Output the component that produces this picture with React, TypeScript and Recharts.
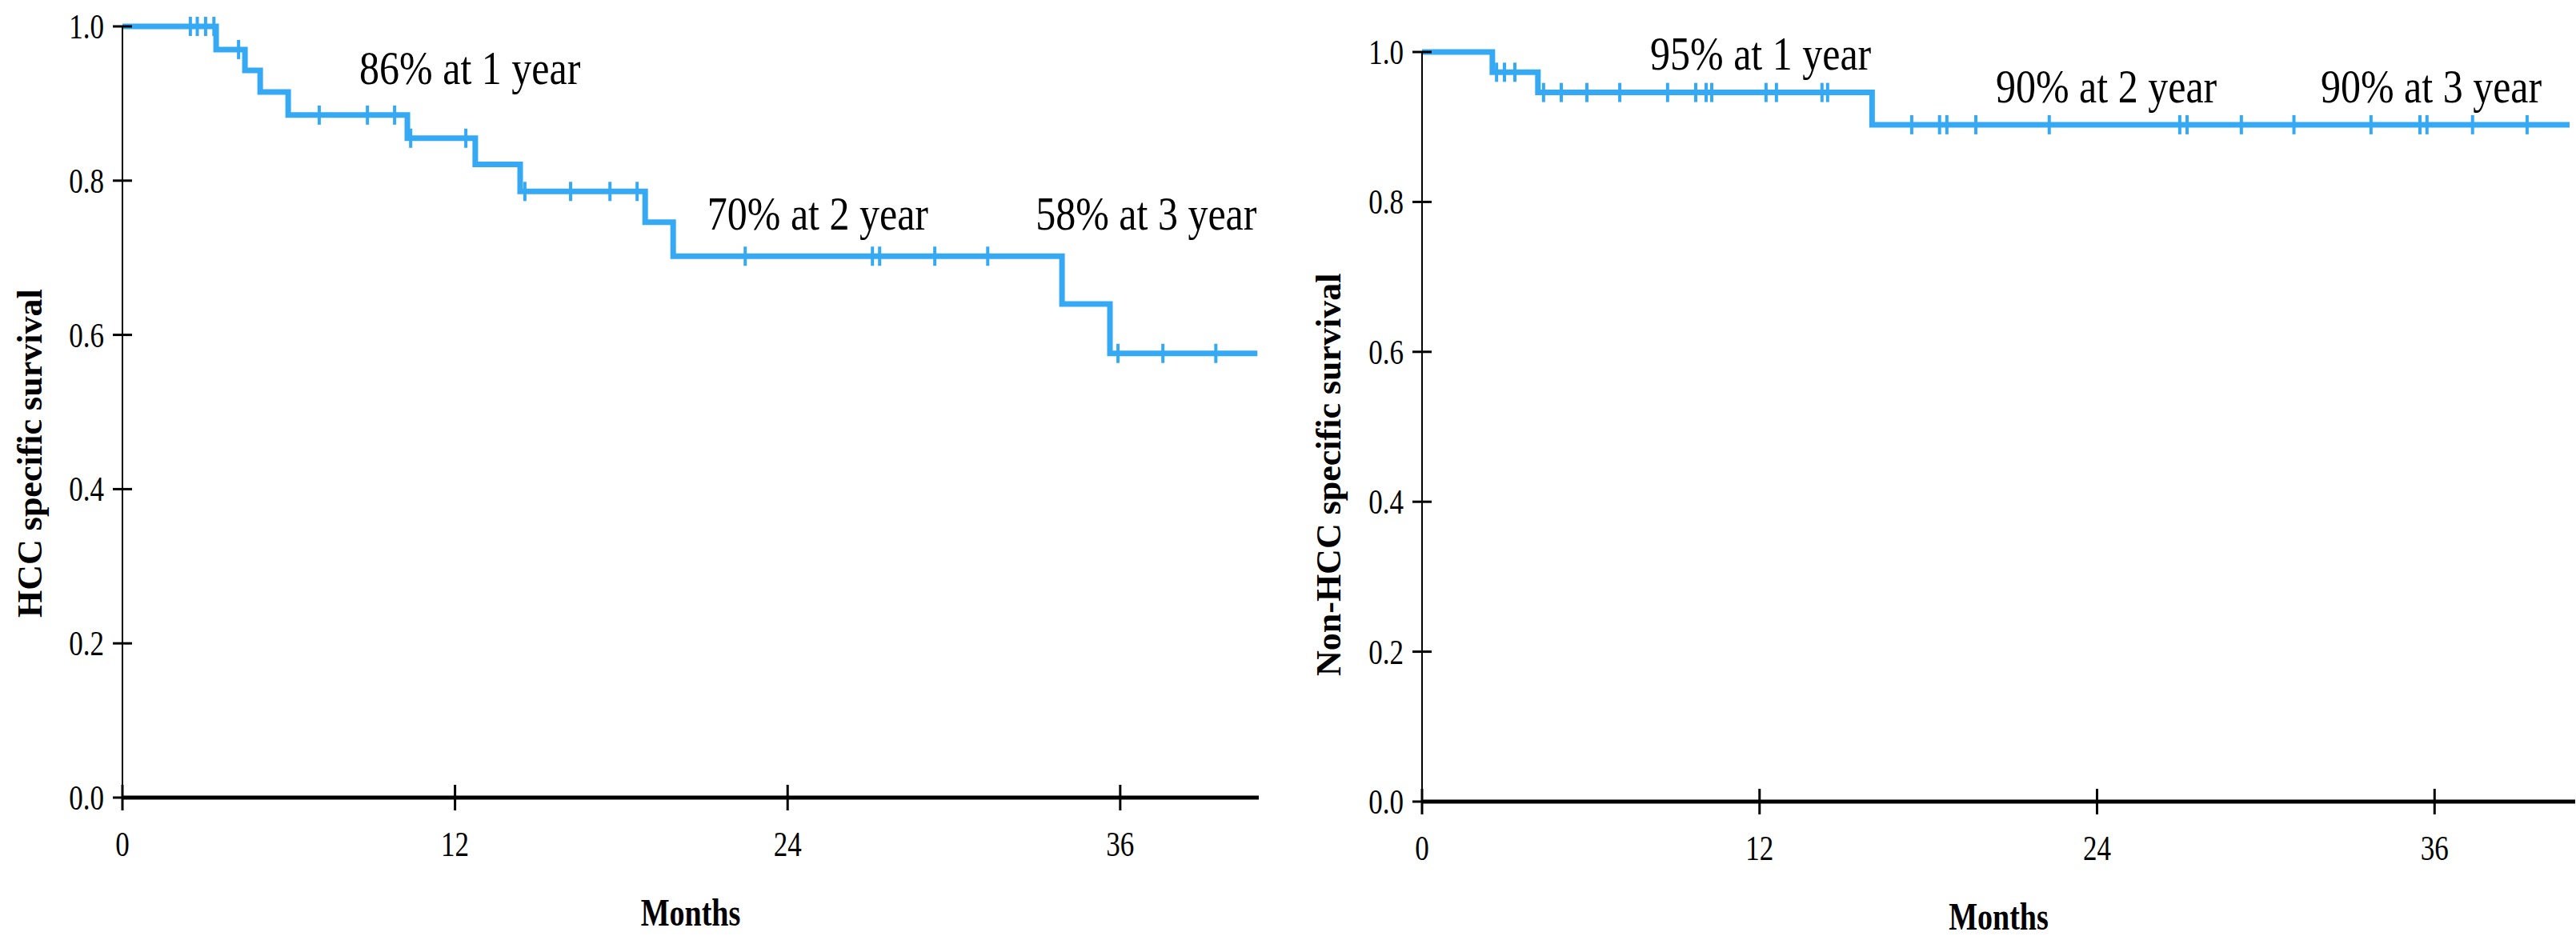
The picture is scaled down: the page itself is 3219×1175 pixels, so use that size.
import React from 'react';
import { ComposedChart, Line, Scatter, XAxis, YAxis, ReferenceDot } from 'recharts';

const BLUE = '#36a9f4';
const FONT = 'Liberation Serif, Times New Roman, serif';

const monthTicks = [0, 12, 24, 36];
const survivalTicks = [0, 0.2, 0.4, 0.6, 0.8, 1.0];

// HCC specific survival (left panel)
const hccEventMonths = [0, 3.38, 4.42, 4.97, 5.98, 10.28, 12.73, 14.35, 18.86, 19.87, 33.9, 35.63, 40.95];
const hccSurvival = [1.0, 0.97, 0.943, 0.915, 0.885, 0.855, 0.821, 0.786, 0.746, 0.702, 0.64, 0.576, 0.576];
const hccCensorMonths = [2.45, 2.7, 3.0, 3.3, 4.19, 7.1, 8.84, 9.82, 10.4, 12.39, 14.52, 16.17, 17.59, 18.57, 22.47, 27.06, 27.32, 29.31, 31.22, 35.92, 37.54, 39.45];
const hccCensorSurvival = [1.0, 1.0, 1.0, 1.0, 0.97, 0.885, 0.885, 0.885, 0.855, 0.855, 0.786, 0.786, 0.786, 0.786, 0.702, 0.702, 0.702, 0.702, 0.702, 0.576, 0.576, 0.576];
const hccNotes = ['86% at 1 year', '70% at 2 year', '58% at 3 year'];

// Non-HCC specific survival (right panel)
const nonHccEventMonths = [0, 2.5, 4.12, 16.0, 40.8];
const nonHccSurvival = [1.0, 0.973, 0.946, 0.903, 0.903];
const nonHccCensorMonths = [2.65, 2.93, 3.3, 4.32, 4.95, 5.86, 7.03, 8.73, 9.73, 10.1, 10.3, 12.23, 12.6, 14.22, 14.42, 17.41, 18.4, 18.66, 19.69, 22.3, 26.94, 27.2, 29.13, 31.0, 33.74, 35.48, 35.73, 37.35, 39.29];
const nonHccCensorSurvival = [0.973, 0.973, 0.973, 0.946, 0.946, 0.946, 0.946, 0.946, 0.946, 0.946, 0.946, 0.946, 0.946, 0.946, 0.946, 0.903, 0.903, 0.903, 0.903, 0.903, 0.903, 0.903, 0.903, 0.903, 0.903, 0.903, 0.903, 0.903, 0.903];
const nonHccNotes = ['95% at 1 year', '90% at 2 year', '90% at 3 year'];

// where the notes sit, in chart units (month of left edge, survival at baseline)
const hccNoteAnchors = [[8.55, 0.925], [21.1, 0.737], [32.95, 0.737]];
const nonHccNoteAnchors = [[8.11, 0.977], [20.4, 0.933], [31.95, 0.933]];

type PanelProps = {
  left: number;
  width: number;
  axisX: number;
  top: number;
  bottom: number;
  right: number;
  eventMonths: number[];
  survival: number[];
  censorMonths: number[];
  censorSurvival: number[];
  notes: string[];
  anchors: number[][];
  yLabel: string;
  yLabelX: number;
  yLabelY: number;
};

const CensorMark = (props: any) => {
  const { cx, cy } = props;
  if (cx == null || cy == null) return null;
  return <line x1={cx} x2={cx} y1={cy - 12} y2={cy + 12} stroke={BLUE} strokeWidth={4} />;
};

const NoteLabel = (props: any) => {
  const { viewBox, value } = props;
  return (
    <text
      transform={`translate(${viewBox.x},${viewBox.y}) scale(1,1.2)`}
      fontSize={50}
      fontFamily={FONT}
      fill="#000"
    >
      {value}
    </text>
  );
};

function KMPanel(p: PanelProps) {
  const height = 1175;
  const curve = p.eventMonths.map((t, i) => ({ t, s: p.survival[i] }));
  const censored = p.censorMonths.map((t, i) => ({ t, s: p.censorSurvival[i] }));
  const plotBottom = height - p.bottom;
  const plotRight = p.width - p.right;

  const YTick = (props: any) => {
    const { y, payload } = props;
    return (
      <g>
        <line x1={p.axisX - 12} x2={p.axisX + 12} y1={y} y2={y} stroke="#000" strokeWidth={3} />
        <text
          transform={`translate(${p.axisX - 23},${y}) scale(1,1.28)`}
          textAnchor="end"
          dominantBaseline="central"
          fontSize={35}
          fontFamily={FONT}
          fill="#000"
        >
          {Number(payload.value).toFixed(1)}
        </text>
      </g>
    );
  };

  const XTick = (props: any) => {
    const { x, payload } = props;
    return (
      <g>
        <line x1={x} x2={x} y1={plotBottom - 16} y2={plotBottom + 16} stroke="#000" strokeWidth={3} />
        <text
          transform={`translate(${x},${plotBottom + 73}) scale(1,1.28)`}
          textAnchor="middle"
          fontSize={35}
          fontFamily={FONT}
          fill="#000"
        >
          {payload.value}
        </text>
      </g>
    );
  };

  return (
    <div style={{ position: 'absolute', left: p.left, top: 0 }}>
      <ComposedChart
        width={p.width}
        height={height}
        margin={{ top: p.top, right: p.right, bottom: 0, left: 0 }}
      >
        <XAxis
          type="number"
          dataKey="t"
          domain={[0, 41]}
          ticks={monthTicks}
          allowDataOverflow
          height={p.bottom}
          tickLine={false}
          axisLine={{ stroke: '#000', strokeWidth: 5 }}
          tick={XTick}
          label={{
            value: 'Months',
            content: () => (
              <text
                transform={`translate(${(p.axisX + plotRight) / 2},${plotBottom + 160}) scale(1,1.28)`}
                textAnchor="middle"
                fontSize={38}
                fontWeight={700}
                fontFamily={FONT}
                fill="#000"
              >
                Months
              </text>
            ),
          }}
        />
        <YAxis
          type="number"
          domain={[0, 1]}
          ticks={survivalTicks}
          width={p.axisX}
          tickLine={false}
          axisLine={{ stroke: '#000', strokeWidth: 2 }}
          tick={YTick}
          label={{
            value: p.yLabel,
            content: () => (
              <text
                transform={`translate(${p.yLabelX},${p.yLabelY}) rotate(-90)`}
                fontSize={44}
                fontWeight={700}
                fontFamily={FONT}
                fill="#000"
              >
                {p.yLabel}
              </text>
            ),
          }}
        />
        <Line
          data={curve}
          type="stepAfter"
          dataKey="s"
          stroke={BLUE}
          strokeWidth={7}
          dot={false}
          activeDot={false}
          isAnimationActive={false}
        />
        <Scatter data={censored} dataKey="s" shape={CensorMark} isAnimationActive={false} />
        {p.notes.map((note, i) => (
          <ReferenceDot
            key={note + i}
            x={p.anchors[i][0]}
            y={p.anchors[i][1]}
            r={0}
            stroke="none"
            fill="none"
            label={{ value: note, content: NoteLabel }}
          />
        ))}
      </ComposedChart>
    </div>
  );
}

export default function App() {
  return (
    <div style={{ position: 'absolute', left: 0, top: 0, width: 3219, height: 1175, background: '#fff', overflow: 'hidden' }}>
      <KMPanel
        left={0}
        width={1600}
        axisX={153}
        top={33}
        bottom={178}
        right={27}
        eventMonths={hccEventMonths}
        survival={hccSurvival}
        censorMonths={hccCensorMonths}
        censorSurvival={hccCensorSurvival}
        notes={hccNotes}
        anchors={hccNoteAnchors}
        yLabel="HCC specific survival"
        yLabelX={52}
        yLabelY={772}
      />
      <KMPanel
        left={1600}
        width={1619}
        axisX={177}
        top={65}
        bottom={173}
        right={1}
        eventMonths={nonHccEventMonths}
        survival={nonHccSurvival}
        censorMonths={nonHccCensorMonths}
        censorSurvival={nonHccCensorSurvival}
        notes={nonHccNotes}
        anchors={nonHccNoteAnchors}
        yLabel="Non-HCC specific survival"
        yLabelX={75}
        yLabelY={845}
      />
    </div>
  );
}
